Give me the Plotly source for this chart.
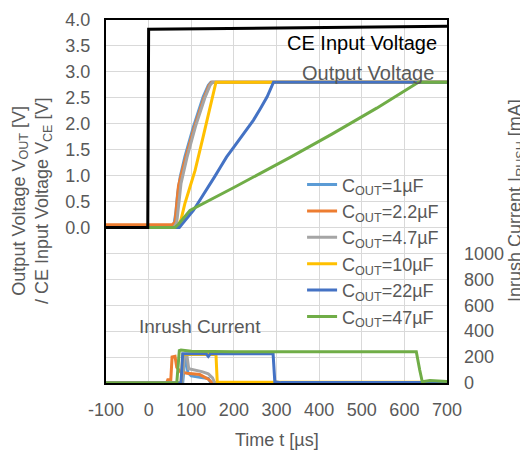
import plotly.graph_objects as go

# ---------------- data ----------------
series_names = ["C<sub>OUT</sub>=1µF", "C<sub>OUT</sub>=2.2µF", "C<sub>OUT</sub>=4.7µF",
                "C<sub>OUT</sub>=10µF", "C<sub>OUT</sub>=22µF", "C<sub>OUT</sub>=47µF"]
series_colors = ["#5B9BD5", "#ED7D31", "#A5A5A5", "#FFC000", "#4472C4", "#70AD47"]

# Output voltage [V] vs time [us]
vout_t_1 = [-100, 55, 60, 64, 68, 74, 85, 105, 128, 140, 146, 700]
vout_v_1 = [0.02, 0.02, 0.08, 0.3, 0.65, 0.97, 1.36, 1.94, 2.52, 2.74, 2.8, 2.8]
vout_t_2 = [-100, 55, 62, 66, 70, 76, 88, 108, 130, 142, 148, 700]
vout_v_2 = [0.05, 0.05, 0.1, 0.45, 0.8, 1.0, 1.38, 1.95, 2.5, 2.74, 2.8, 2.8]
vout_t_3 = [-100, 60, 66, 70, 76, 90, 110, 132, 144, 150, 700]
vout_v_3 = [0.0, 0.0, 0.1, 0.4, 0.85, 1.35, 1.95, 2.5, 2.74, 2.8, 2.8]
vout_t_4 = [-100, 68, 76, 85, 97, 109, 128, 146, 158, 700]
vout_v_4 = [0.0, 0.0, 0.15, 0.46, 0.78, 1.1, 1.75, 2.39, 2.8, 2.8]
vout_t_5 = [-100, 72, 80, 92, 105, 116, 128, 141, 155, 169, 183, 199, 215, 230, 246, 262, 278, 293, 700]
vout_v_5 = [0.0, 0.0, 0.08, 0.2, 0.33, 0.47, 0.62, 0.8, 0.98, 1.17, 1.36, 1.54, 1.72, 1.9, 2.07,
            2.29, 2.52, 2.8, 2.8]
vout_t_6 = [-100, 62, 70, 80, 97, 200, 332, 430, 535, 633, 700]
vout_v_6 = [0.0, 0.0, 0.06, 0.16, 0.33, 0.77, 1.35, 1.8, 2.3, 2.8, 2.8]

# CE input voltage [V]
vce_t = [-100, -2, 0, 100, 300, 500, 700]
vce_v = [0.0, 0.0, 3.82, 3.83, 3.85, 3.87, 3.88]

# Inrush current [mA]
irush_t_1 = [-100, 80, 84, 88, 92, 100, 120, 140, 146, 700]
irush_i_1 = [0, 0, 150, 210, 80, 55, 45, 35, 0, 0]
irush_t_2 = [-100, 42, 45, 52, 55, 62, 66, 75, 90, 120, 140, 150, 700]
irush_i_2 = [0, 0, 25, 25, 200, 205, 120, 85, 75, 65, 30, 0, 0]
irush_t_3 = [-100, 78, 84, 90, 94, 110, 125, 140, 150, 155, 700]
irush_i_3 = [0, 0, 215, 210, 110, 100, 88, 70, 40, 0, 0]
irush_t_4 = [-100, 76, 80, 158, 161, 700]
irush_i_4 = [0, 0, 220, 220, 5, 5]
irush_t_5 = [-100, 76, 80, 135, 140, 145, 292, 296, 310, 700]
irush_i_5 = [0, 0, 225, 225, 205, 225, 225, 10, 3, 3]
irush_t_6 = [-100, 66, 72, 76, 100, 200, 400, 628, 636, 642, 660, 700]
irush_i_6 = [0, 0, 250, 255, 245, 242, 242, 242, 100, 10, 20, 12]

x_ticks = [-100, 0, 100, 200, 300, 400, 500, 600, 700]
x_tick_text = ["-100", "0", "100", "200", "300", "400", "500", "600", "700"]
y_left_grid = [-3.0, -2.5, -2.0, -1.5, -1.0, -0.5, 0.0, 0.5, 1.0, 1.5, 2.0, 2.5, 3.0, 3.5, 4.0]
y_right_ticks = [0, 200, 400, 600, 800, 1000]

vout_t = [vout_t_1, vout_t_2, vout_t_3, vout_t_4, vout_t_5, vout_t_6]
vout_v = [vout_v_1, vout_v_2, vout_v_3, vout_v_4, vout_v_5, vout_v_6]
irush_t = [irush_t_1, irush_t_2, irush_t_3, irush_t_4, irush_t_5, irush_t_6]
irush_i = [irush_i_1, irush_i_2, irush_i_3, irush_i_4, irush_i_5, irush_i_6]

# ---------------- figure ----------------
FONT = "Liberation Sans, Arial, sans-serif"
GRAY = "#595959"

fig = go.Figure()

for name, col, t, v in zip(series_names, series_colors, vout_t, vout_v):
    fig.add_trace(go.Scatter(x=t, y=v, mode="lines", name=name,
                             line=dict(color=col, width=3), yaxis="y"))

for name, col, t, i in zip(series_names, series_colors, irush_t, irush_i):
    fig.add_trace(go.Scatter(x=t, y=i, mode="lines", name=name, showlegend=False,
                             line=dict(color=col, width=3), yaxis="y2"))

fig.add_trace(go.Scatter(x=vce_t, y=vce_v, mode="lines", name="CE Input Voltage",
                         showlegend=False, line=dict(color="black", width=3), yaxis="y"))

left_text = [("%.1f" % v) if v >= 0 else "" for v in y_left_grid]

# page body has an 8px margin, so the figure is 8px smaller and margins shifted
fig.update_layout(
    width=520, height=444,
    margin=dict(l=98, r=81, t=12, b=69, autoexpand=False),
    paper_bgcolor="white", plot_bgcolor="white",
    font=dict(family=FONT, size=18, color=GRAY),
    xaxis=dict(range=[-100, 700], tickvals=x_ticks, ticktext=x_tick_text, showgrid=True,
               gridcolor="#D9D9D9", gridwidth=1, zeroline=False, showline=True,
               linecolor="black", linewidth=2, mirror=True, ticks="", ticklabelstandoff=9,
               automargin=False),
    yaxis=dict(range=[-3, 4], tickvals=y_left_grid, ticktext=left_text, showgrid=True,
               gridcolor="#D9D9D9", gridwidth=1, zeroline=False, showline=True,
               linecolor="black", linewidth=2, mirror=True, ticks="", ticklabelstandoff=10,
               automargin=False),
    yaxis2=dict(range=[0, 2800], tickvals=y_right_ticks, overlaying="y", side="right",
                showgrid=False, zeroline=False, showline=False, ticks="", ticklabelstandoff=16,
                automargin=False),
    legend=dict(x=0.575, y=0.597, xanchor="left", yanchor="top", bgcolor="rgba(0,0,0,0)",
                font=dict(size=18, color=GRAY), tracegroupgap=0),
    showlegend=True,
    annotations=[
        dict(text="CE Input Voltage", x=700, y=3.55, xref="x", yref="y", xanchor="right",
             yanchor="middle", showarrow=False, xshift=-8,
             font=dict(size=20, color="black", family=FONT)),
        dict(text="Output Voltage", x=700, y=2.98, xref="x", yref="y", xanchor="right",
             yanchor="middle", showarrow=False, xshift=-11,
             font=dict(size=20, color=GRAY, family=FONT)),
        dict(text="Inrush Current", x=-20, y=-1.92, xref="x", yref="y", xanchor="left",
             yanchor="middle", showarrow=False, xshift=-3,
             font=dict(size=19, color=GRAY, family=FONT)),
        dict(text="Time t [µs]", x=0.5, y=-0.157, xref="paper", yref="paper",
             xanchor="center", yanchor="middle", showarrow=False,
             font=dict(size=18, color=GRAY, family=FONT)),
        dict(text="Output Voltage V<sub>OUT</sub> [V]<br>/ CE Input Voltage V<sub>CE</sub> [V]",
             x=-0.219, y=0.502, xref="paper", yref="paper", textangle=-90,
             xanchor="center", yanchor="middle", showarrow=False,
             font=dict(size=18, color=GRAY, family=FONT)),
        dict(text="Inrush Current I<sub>RUSH</sub> [mA]",
             x=1.202, y=0.504, xref="paper", yref="paper", textangle=-90,
             xanchor="center", yanchor="middle", showarrow=False,
             font=dict(size=18, color=GRAY, family=FONT)),
    ],
)

fig.write_html("out.html")
